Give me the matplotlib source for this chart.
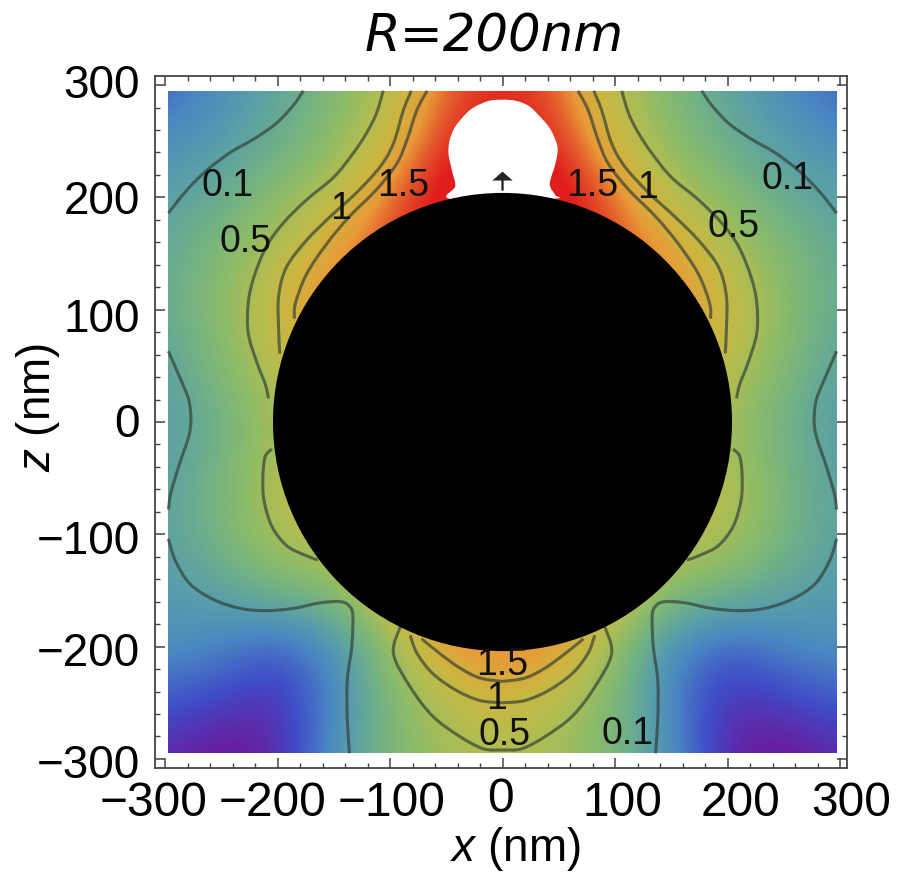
import numpy as np
import matplotlib
matplotlib.use("Agg")
import matplotlib.pyplot as plt
from matplotlib.colors import LinearSegmentedColormap
from matplotlib.patches import Circle, PathPatch, Rectangle
from matplotlib.path import Path
from matplotlib.transforms import ScaledTranslation

plt.rcParams["font.family"] = ["Liberation Sans", "DejaVu Sans"]
plt.rcParams["mathtext.fontset"] = "custom"
plt.rcParams["mathtext.rm"] = "Liberation Sans"
plt.rcParams["mathtext.it"] = "Liberation Sans:italic"

# -----------------------------------------------------------------
# Field, right half (x = 0, 50, ... 300), z from 300 to -300
# -----------------------------------------------------------------
field_half = np.array([
    [1.00, 0.93, 0.72, 0.58, 0.44, 0.33, 0.20],
    [1.00, 1.00, 0.79, 0.62, 0.50, 0.40, 0.33],
    [1.00, 1.05, 0.93, 0.73, 0.62, 0.49, 0.42],
    [1.00, 1.00, 0.98, 0.88, 0.72, 0.60, 0.47],
    [0.95, 0.95, 0.95, 0.92, 0.80, 0.62, 0.48],
    [0.85, 0.85, 0.85, 0.85, 0.74, 0.60, 0.43],
    [0.75, 0.75, 0.75, 0.75, 0.68, 0.52, 0.40],
    [0.80, 0.80, 0.80, 0.80, 0.72, 0.56, 0.42],
    [0.85, 0.85, 0.85, 0.75, 0.72, 0.56, 0.43],
    [0.90, 0.90, 0.85, 0.62, 0.55, 0.45, 0.39],
    [0.92, 0.90, 0.66, 0.32, 0.20, 0.30, 0.35],
    [0.80, 0.72, 0.58, 0.30, 0.05, 0.12, 0.18],
    [0.70, 0.68, 0.58, 0.36, 0.03, -0.05, 0.05],
])
field = np.hstack([field_half[:, :0:-1], field_half])

# -----------------------------------------------------------------
# Contours (left side, mirrored when drawn)
# -----------------------------------------------------------------
c01_top_x = [-177, -186, -201, -221, -242, -263, -281, -297]
c01_top_z = [295, 282, 266, 252, 240, 224, 206, 186]
c05_top_x = [-106, -112, -121, -133, -150, -174, -195, -210, -221, -226, -226, -218, -211, -208]
c05_top_z = [295, 275, 257, 239, 218, 198, 177, 156, 129, 106, 79, 52, 34, 21]
c1_top_x = [-81, -88, -97, -109, -130, -153, -174, -192, -199, -199, -198]
c1_top_z = [295, 278, 248, 227, 204, 183, 162, 138, 112, 82, 61]
c15_top_x = [-67, -76, -85, -94, -112, -136, -156, -174, -184, -185]
c15_top_z = [295, 278, 251, 230, 207, 183, 159, 132, 106, 92]
c01_side_x = [-297, -287, -279, -277, -279, -288, -295, -297]
c01_side_z = [63, 40, 20, 2, -13, -40, -64, -78]
c01_low_x = [-297, -291, -278, -257, -233, -210, -186, -162, -144, -136, -133, -134, -138, -138, -136]
c01_low_z = [-104, -123, -144, -158, -166, -168, -166, -161, -160, -164, -173, -200, -230, -265, -295]
c05_lobe_x = [-205, -211, -213, -212, -205, -192, -177, -164]
c05_lobe_z = [-24, -31, -49, -70, -93, -110, -118, -123]
c05_bot_x = [-90, -97, -82, -62, -38, -17, 0]
c05_bot_z = [-180, -206, -236, -262, -280, -291, -292]
c1_bot_x = [-82, -76, -62, -41, -20, 0]
c1_bot_z = [-190, -206, -224, -239, -248, -250]
c15_bot_x = [-72, -56, -38, -20, 0]
c15_bot_z = [-193, -206, -219, -228, -231]

contours = [
    (c01_top_x, c01_top_z), (c05_top_x, c05_top_z), (c1_top_x, c1_top_z),
    (c15_top_x, c15_top_z), (c01_side_x, c01_side_z), (c01_low_x, c01_low_z),
    (c05_lobe_x, c05_lobe_z), (c05_bot_x, c05_bot_z), (c1_bot_x, c1_bot_z),
    (c15_bot_x, c15_bot_z),
]

# white hole above the sphere
hole_x = [0, -48, -42, -45, -48, -47, -42, -32, -24, -12, 0, 12, 24, 36, 41, 45, 49, 47, 42, 47, 48, 0]
hole_z = [195, 199, 210, 224, 239, 251, 263, 275, 281, 286, 287, 286, 281, 269, 263, 256, 244, 230, 212, 202, 199, 195]

label_text = ["0.1", "0.5", "1", "1.5", "1.5", "1", "0.5", "0.1", "1.5", "1", "0.5", "0.1"]
label_x = [-244, -228, -144, -88, 80, 129, 205, 253, 0, -5, 2, 111]
label_z = [210, 160, 190, 210, 210, 208, 174, 216, -216, -247, -279, -278]

major_ticks = [-300, -200, -100, 0, 100, 200, 300]
minor_ticks = np.arange(-300, 301, 20)
# the tick labels sit a little off their ticks in the picture (pixels)
xlabel_shift = [-11, -5, 2, -2, 7, 13, 11]
xlabel_lift = [0, 0, 0, 4, 0, 0, 0]
ylabel_lift = [-2, -2, -3, 2, -5, 0, 4]

# -----------------------------------------------------------------
# Colores
# -----------------------------------------------------------------
cmap = LinearSegmentedColormap.from_list("field", [
    (0.00, "#6a1a9c"),
    (0.15, "#3f4cc8"),
    (0.30, "#4a86c2"),
    (0.42, "#5a9fa8"),
    (0.52, "#6fb088"),
    (0.62, "#8abb6a"),
    (0.72, "#b4bd50"),
    (0.80, "#cdb540"),
    (0.88, "#e89a38"),
    (1.00, "#e01e1e"),
])


def smooth_path(xs, zs):
    # bezier through the points that were read
    pts = np.column_stack([xs, zs]).astype(float)
    verts = [pts[0]]
    codes = [Path.MOVETO]
    for i in range(len(pts) - 1):
        p0 = pts[max(i - 1, 0)]
        p1 = pts[i]
        p2 = pts[i + 1]
        p3 = pts[min(i + 2, len(pts) - 1)]
        verts += [p1 + (p2 - p0) / 6, p2 - (p3 - p1) / 6, p2]
        codes += [Path.CURVE4, Path.CURVE4, Path.CURVE4]
    return Path(verts, codes)


fig = plt.figure(figsize=(8.99, 8.72), dpi=100)
ax = fig.add_axes([155 / 899, 1 - 768 / 872, 692 / 899, 692 / 872])

im = ax.imshow(field, cmap=cmap, vmin=0, vmax=1, extent=(-325, 325, -325, 325),
               interpolation="bicubic", aspect="auto", zorder=1)
im.set_clip_path(Rectangle((-297, -295), 594, 590, transform=ax.transData))

for cx, cz in contours:
    cx = np.array(cx)
    for side in [cx, -cx]:
        ax.add_patch(PathPatch(smooth_path(side, cz), fill=False, edgecolor="#2d3a33",
                               alpha=0.65, lw=2.2, zorder=2))

ax.add_patch(PathPatch(smooth_path(hole_x, hole_z), facecolor="white", lw=0, zorder=3))
ax.add_patch(Circle((0, 0), 204, color="black", lw=0, zorder=4))
ax.arrow(0, 206, 0, 17, width=2, head_width=18, head_length=8,
         length_includes_head=True, color="#222222", lw=0, zorder=5)

for t, lx, lz in zip(label_text, label_x, label_z):
    ax.text(lx, lz, t, fontsize=27, color="#111111", ha="center", va="center", zorder=6)

ax.set_xlim(-308.9, 306.2)
ax.set_ylim(-308.1, 308.1)
ax.set_xticks(major_ticks)
ax.set_yticks(major_ticks)
ax.set_xticks(minor_ticks, minor=True)
ax.set_yticks(minor_ticks, minor=True)
ax.tick_params(which="major", direction="in", length=7.5, width=1.1, color="#444444",
               top=True, right=True)
ax.tick_params(which="minor", direction="in", length=3.8, width=1.0, color="#444444",
               top=True, right=True)
ax.tick_params(axis="x", which="major", labelsize=34.5, pad=9)
ax.tick_params(axis="y", which="major", labelsize=33, pad=11)
for s in ax.spines.values():
    s.set_linewidth(1.3)
    s.set_color("#444444")

# move the tick labels to where they are in the picture
fig.canvas.draw()
for lab, dx, dy in zip(ax.get_xticklabels(), xlabel_shift, xlabel_lift):
    lab.set_transform(lab.get_transform() + ScaledTranslation(dx / 100, dy / 100, fig.dpi_scale_trans))
for lab, dy in zip(ax.get_yticklabels(), ylabel_lift):
    lab.set_transform(lab.get_transform() + ScaledTranslation(0, dy / 100, fig.dpi_scale_trans))

fig.text(515 / 899, 1 - 849 / 872, r"$\mathit{x}$ (nm)", fontsize=33, ha="center", va="center")
fig.text(38 / 899, 1 - 407 / 872, r"$\mathit{z}$ (nm)", fontsize=33, rotation=90, ha="center", va="center")

fig.text(494 / 899, 1 - 38 / 872, "R=200nm", fontsize=37, style="italic",
         family=["DejaVu Sans"], ha="center", va="center")

fig.savefig("out.png", dpi=100)
